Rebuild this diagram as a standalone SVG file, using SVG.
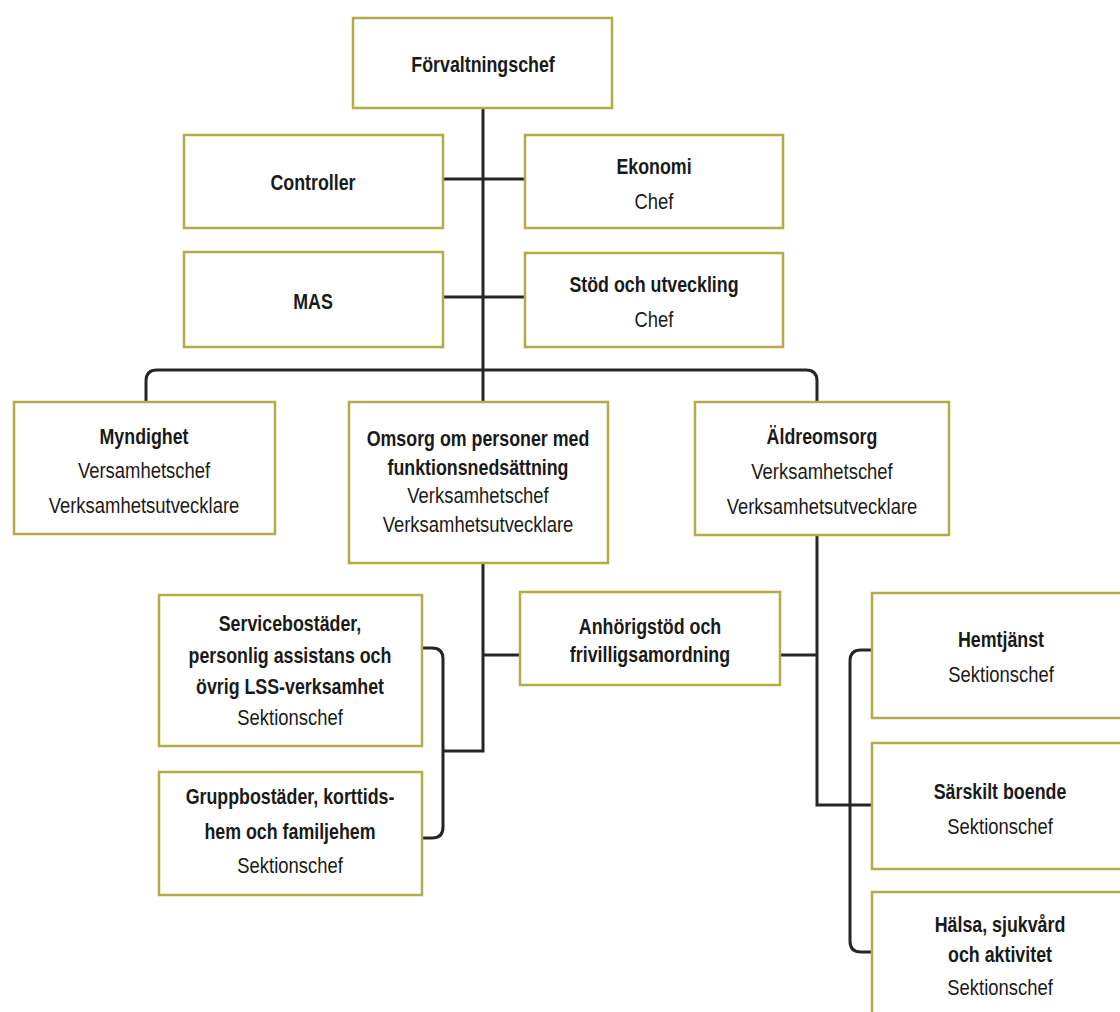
<svg xmlns="http://www.w3.org/2000/svg" width="1120" height="1012" viewBox="0 0 1120 1012">
<style>
  .box { fill: #ffffff; stroke: #b3ab44; stroke-width: 2.5; }
  .con { fill: none; stroke: #262626; stroke-width: 3; stroke-linejoin: miter; }
  text { font-family: "Liberation Sans", Arial, sans-serif; fill: #1a1a1a; text-anchor: middle;
         transform-box: fill-box; transform-origin: center; }
  .b { font-size: 22px; font-weight: bold; transform: scaleX(0.81); }
  .r { font-size: 22.5px; font-weight: normal; transform: scaleX(0.82); }
</style>
<rect width="1120" height="1012" fill="#ffffff"/>

<g id="connectors">
  <path class="con" d="M483,108 V402"/>
  <path class="con" d="M443,179 H525"/>
  <path class="con" d="M443,297 H525"/>
  <path class="con" d="M146,402 V381 Q146,370 157,370 H806 Q817,370 817,381 V402"/>
  <path class="con" d="M483,563 V751 H443"/>
  <path class="con" d="M422,648 H432 Q443,648 443,659 V827 Q443,838 432,838 H422"/>
  <path class="con" d="M483,655 H520"/>
  <path class="con" d="M780,655 H817"/>
  <path class="con" d="M817,535 V805 H872"/>
  <path class="con" d="M872,650 H861 Q850,650 850,661 V941 Q850,952 861,952 H872"/>
</g>

<g id="forvaltningschef">
  <rect class="box" x="353" y="18" width="259" height="90"/>
  <text class="b" x="483" y="72">Förvaltningschef</text>
</g>

<g id="controller">
  <rect class="box" x="184" y="135" width="259" height="93"/>
  <text class="b" x="313" y="190">Controller</text>
</g>

<g id="ekonomi">
  <rect class="box" x="525" y="135" width="258" height="93"/>
  <text class="b" x="654" y="174">Ekonomi</text>
  <text class="r" x="654" y="209">Chef</text>
</g>

<g id="mas">
  <rect class="box" x="184" y="252" width="259" height="95"/>
  <text class="b" x="313" y="309">MAS</text>
</g>

<g id="stod">
  <rect class="box" x="525" y="253" width="258" height="94"/>
  <text class="b" x="654" y="292">Stöd och utveckling</text>
  <text class="r" x="654" y="327">Chef</text>
</g>

<g id="myndighet">
  <rect class="box" x="14" y="402" width="261" height="132"/>
  <text class="b" x="144" y="444">Myndighet</text>
  <text class="r" x="144" y="478">Versamhetschef</text>
  <text class="r" x="144" y="513">Verksamhetsutvecklare</text>
</g>

<g id="omsorg">
  <rect class="box" x="349" y="402" width="259" height="161"/>
  <text class="b" x="478" y="446">Omsorg om personer med</text>
  <text class="b" x="478" y="475">funktionsnedsättning</text>
  <text class="r" x="478" y="503">Verksamhetschef</text>
  <text class="r" x="478" y="532">Verksamhetsutvecklare</text>
</g>

<g id="aldreomsorg">
  <rect class="box" x="695" y="402" width="254" height="133"/>
  <text class="b" x="822" y="444">Äldreomsorg</text>
  <text class="r" x="822" y="479">Verksamhetschef</text>
  <text class="r" x="822" y="514">Verksamhetsutvecklare</text>
</g>

<g id="servicebostader">
  <rect class="box" x="159" y="595" width="263" height="151"/>
  <text class="b" x="290" y="631">Servicebostäder,</text>
  <text class="b" x="290" y="663">personlig assistans och</text>
  <text class="b" x="290" y="694">övrig LSS-verksamhet</text>
  <text class="r" x="290" y="725">Sektionschef</text>
</g>

<g id="gruppbostader">
  <rect class="box" x="159" y="772" width="263" height="123"/>
  <text class="b" x="290" y="804">Gruppbostäder, korttids-</text>
  <text class="b" x="290" y="839">hem och familjehem</text>
  <text class="r" x="290" y="873">Sektionschef</text>
</g>

<g id="anhorigstod">
  <rect class="box" x="520" y="592" width="260" height="93"/>
  <text class="b" x="650" y="634">Anhörigstöd och</text>
  <text class="b" x="650" y="662">frivilligsamordning</text>
</g>

<g id="hemtjanst">
  <rect class="box" x="872" y="593" width="262" height="125"/>
  <text class="b" x="1001" y="647">Hemtjänst</text>
  <text class="r" x="1001" y="682">Sektionschef</text>
</g>

<g id="sarskilt-boende">
  <rect class="box" x="872" y="743" width="262" height="126"/>
  <text class="b" x="1000" y="799">Särskilt boende</text>
  <text class="r" x="1000" y="834">Sektionschef</text>
</g>

<g id="halsa">
  <rect class="box" x="872" y="892" width="262" height="140"/>
  <text class="b" x="1000" y="932">Hälsa, sjukvård</text>
  <text class="b" x="1000" y="962">och aktivitet</text>
  <text class="r" x="1000" y="995">Sektionschef</text>
</g>
</svg>
